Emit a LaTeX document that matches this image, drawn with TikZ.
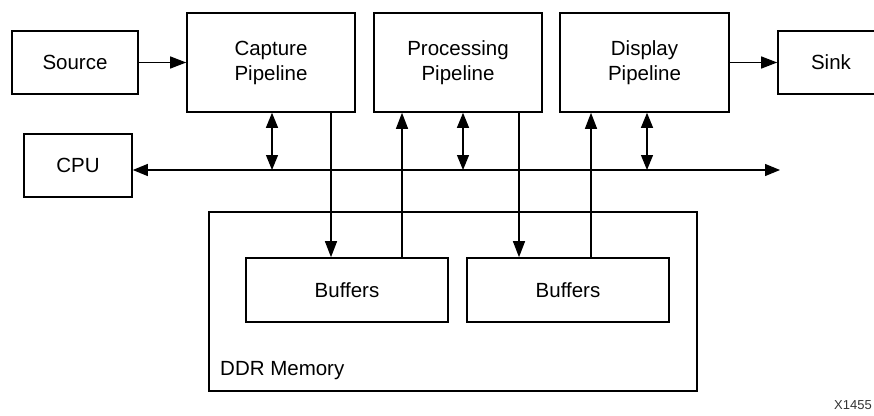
\documentclass[tikz,border=0pt]{standalone}
\usepackage{fontspec}
\setmainfont{Liberation Sans}
\usetikzlibrary{arrows.meta}
\begin{document}
\begin{tikzpicture}[x=1pt,y=-1pt,
  blk/.style={draw,line width=1.6pt,inner sep=0pt,align=center,font=\fontsize{20.5}{25}\selectfont},
  conn/.style={line width=1.2pt,-{Triangle[length=16pt,width=12pt]}},
  bidir/.style={line width=1.2pt,{Triangle[length=15pt,width=12pt]}-{Triangle[length=15pt,width=12pt]}},
  plain/.style={line width=1.2pt}]
\useasboundingbox (0,0) rectangle (874,415);
\node[blk,minimum width=126pt,minimum height=63pt] (src) at (75,62.5) {Source};
\node[blk,minimum width=168pt,minimum height=99pt] (cap) at (271,62.5) {Capture\\Pipeline};
\node[blk,minimum width=168pt,minimum height=99pt] (proc) at (458,62.5) {Processing\\Pipeline};
\node[blk,minimum width=169pt,minimum height=99pt] (disp) at (644.5,62.5) {Display\\Pipeline};
\node[blk,minimum width=106pt,minimum height=63pt] (sink) at (831,62.5) {Sink};
\node[blk,minimum width=108pt,minimum height=63pt] (cpu) at (78,165.5) {CPU};
\node[blk,minimum width=488pt,minimum height=179pt] (ddr) at (453,301.5) {};
\node[blk,minimum width=202pt,minimum height=64pt] (buf1) at (347,290) {Buffers};
\node[blk,minimum width=202pt,minimum height=64pt] (buf2) at (568,290) {Buffers};
\node[anchor=base west,inner sep=0pt,font=\fontsize{20.5}{25}\selectfont] (ddrl) at (220,375) {DDR Memory};
\node[anchor=base east,inner sep=0pt,font=\fontsize{13}{15}\selectfont,text=black!80] (fig) at (872,409) {X1455};
% bus
\coordinate (busend) at (780,170);
\coordinate (t1) at (272,170);
\coordinate (t2) at (463,170);
\coordinate (t3) at (647,170);
\coordinate (d1) at (331,0);
\coordinate (u1) at (402,0);
\coordinate (d2) at (519,0);
\coordinate (u2) at (591,0);
\draw[conn] (src.east) -- (cap.west);
\draw[conn] (disp.east) -- (disp.east -| sink.west);
\draw[bidir] (cpu.east |- busend) -- (busend);
\draw[bidir] (cap.south -| t1) -- (t1);
\draw[bidir] (proc.south -| t2) -- (t2);
\draw[bidir] (disp.south -| t3) -- (t3);
\draw[conn] (cap.south -| d1) -- (buf1.north -| d1);
\draw[conn] (buf1.north -| u1) -- (proc.south -| u1);
\draw[conn] (proc.south -| d2) -- (buf2.north -| d2);
\draw[conn] (buf2.north -| u2) -- (disp.south -| u2);
\end{tikzpicture}
\end{document}
